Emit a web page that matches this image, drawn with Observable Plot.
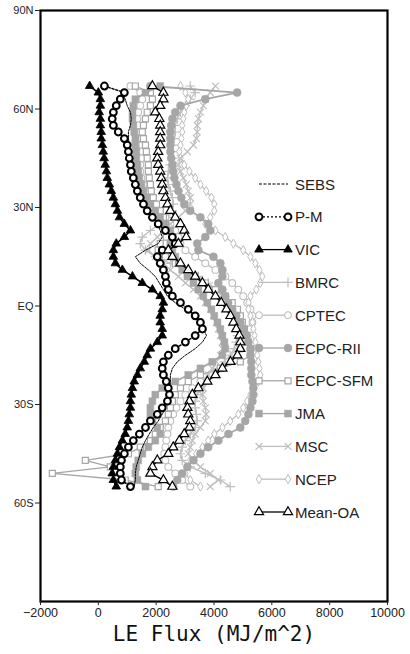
<!DOCTYPE html>
<html><head><meta charset="utf-8">
<script src="https://cdn.jsdelivr.net/npm/d3@7"></script>
<script src="https://cdn.jsdelivr.net/npm/@observablehq/plot@0.6"></script>
<style>body{margin:0;background:#fff;} #chart{width:410px;height:654px;overflow:hidden;}</style>
</head><body><div id="chart"></div>
<script>
// Latitude rows (deg, + = N, - = S)
const lats = [67,65,63,61,59,57,55,53,51,49,47,45,43,41,39,37,35,33,31,29,27,25,23,21,19,17,15,13,11,9,7,5,3,1,-1,-3,-5,-7,-9,-11,-13,-15,-17,-19,-21,-23,-25,-27,-29,-31,-33,-35,-37,-39,-41,-43,-45,-47,-49,-51,-53,-55];

// LE flux (MJ/m^2) per latitude row
const SEBS = [null,830,930,1000,1110,1140,1110,1040,1040,1070,1110,1140,1180,1210,1280,1350,1420,1520,1630,1760,1900,2040,2140,2210,2070,1630,1280,1450,1730,1970,2110,2250,2390,2660,3010,3350,3530,3630,3740,3600,3350,3010,2730,2560,2490,2490,2460,2420,2390,2320,2210,2070,1900,1760,1630,1520,1450,1380,1310,1280,1280,1240];
const PM = [210,900,760,620,520,480,520,690,900,1000,1040,1070,1110,1140,1210,1280,1350,1450,1560,1690,1870,2070,2320,2560,2660,2210,2040,2140,2250,2320,2350,2420,2560,2840,3110,3350,3530,3600,3350,3010,2660,2420,2250,2210,2250,2350,2420,2460,2390,2210,2040,1800,1630,1420,1210,1040,900,800,760,760,800,1110];
const VIC = [-300,0,70,70,30,70,70,100,100,140,170,200,240,280,310,380,450,520,590,660,730,900,1110,900,620,520,520,590,830,1180,1520,1870,2140,2250,2210,2140,2140,2210,2210,2040,1800,1690,1590,1450,1350,1240,1180,1140,1110,1110,1070,1040,1000,930,830,730,660,590,520,480,520,620];
const BMRC = [3180,3350,3180,3010,2840,2730,2660,2660,2630,2590,2590,2560,2490,2420,2390,2420,2490,2560,2590,2560,2420,2140,1800,1520,1450,1630,1970,2490,3010,3460,3800,4080,4290,4470,4600,4700,4770,4810,4810,4770,4700,4560,4360,4120,3870,3700,3530,3420,3350,3350,3390,3420,3350,3180,3010,2900,2840,2900,3180,3700,4220,4560];
const CPTEC = [1110,1450,1520,1450,1380,1350,1380,1450,1490,1520,1520,1490,1450,1450,1490,1560,1660,1800,1970,2140,2320,2490,2660,2770,2840,3010,3350,3700,4050,4390,4630,4840,5010,5150,5260,5330,5330,5260,5150,5050,4910,4740,4500,4220,3870,3530,3250,3010,2840,2700,2590,2490,2420,2390,2350,2320,2280,2320,2420,2660,2900,3180];
const ECPC_RII = [1800,4800,3700,2840,2660,2560,2520,2490,2490,2490,2490,2520,2560,2590,2630,2700,2770,2870,2970,3180,3530,3800,3870,3700,3420,3460,3980,4220,4290,4290,4150,4290,4390,4490,4630,4770,4910,5010,5120,5190,5260,5260,5290,5290,5290,5330,5360,5360,5330,5260,5190,5080,4910,4500,4150,3800,3530,3290,3080,2900,2730,2590];
const ECPC_SFM = [1280,1800,1870,1800,1690,1630,1560,1520,1560,1630,1660,1690,1730,1730,1760,1800,1830,1900,2010,2140,2250,2320,2390,2350,2140,2070,2320,2660,3010,3350,3700,4050,4390,4630,4810,4910,4980,5050,5120,5190,5260,5260,4910,4220,3530,3110,2840,2660,2560,2490,2420,2320,2140,1970,1800,1450,1040,-450,415,-1590,930,2070];
const JMA = [2140,1630,1280,1210,1180,1180,1210,1240,1280,1280,1310,1310,1350,1380,1420,1490,1560,1660,1800,1970,2140,2320,2490,2560,2490,2560,2660,2770,2900,3080,3290,3460,3630,3770,3910,4010,4120,4220,4290,4360,4390,4290,3940,3530,3110,2660,2210,1970,1870,1800,1800,1870,2040,2140,1970,1730,1520,1380,1310,1280,1350,1630];
const MSC = [4050,3870,3700,3630,3530,3460,3420,3420,3390,3290,3080,2840,2770,2840,2940,3040,3110,3180,3180,3010,2770,2490,2250,2040,1800,1730,1970,2250,2490,2770,3010,3290,3530,3700,3870,3980,4080,4150,4220,4290,4290,4220,4080,3940,3800,3700,3630,3600,3630,3700,3730,3700,3530,3350,3250,3180,3110,3250,3530,3870,4150,3870];
const NCEP = [2840,3010,3110,3040,2970,2940,2900,2900,2870,2840,2800,2840,2970,3150,3350,3530,3730,3910,4010,4010,3870,3700,4050,4390,4670,5010,5260,5430,5570,5670,5600,5460,5260,5190,5190,5260,5330,5360,5400,5430,5460,5500,5530,5570,5600,5530,5400,5260,5150,5010,4840,4560,4290,4010,3800,3600,3390,3180,3040,3010,3180,3530];
const MEAN_OA = [1870,2250,2250,2140,1970,2110,2140,2140,2140,2140,2070,2040,2070,2140,2180,2210,2250,2320,2390,2490,2660,2840,2970,3040,2770,2420,2560,2840,3110,3350,3600,3800,4050,4250,4430,4570,4670,4770,4880,4910,4910,4810,4570,4290,4050,3770,3460,3250,3150,3080,3110,3180,3150,2970,2800,2590,2420,2040,1870,1800,2250,2560];

const seriesNames = ["SEBS","P-M","VIC","BMRC","CPTEC","ECPC-RII","ECPC-SFM","JMA","MSC","NCEP","Mean-OA"];
const xTicks = [-2000,0,2000,4000,6000,8000,10000];
const yTicks = [90,60,30,0,-30,-60];
const yTickLabels = ["90N","60N","30N","EQ","30S","60S"];
const xLabel = "LE Flux (MJ/m^2)";

const values = {"SEBS":SEBS,"P-M":PM,"VIC":VIC,"BMRC":BMRC,"CPTEC":CPTEC,"ECPC-RII":ECPC_RII,"ECPC-SFM":ECPC_SFM,"JMA":JMA,"MSC":MSC,"NCEP":NCEP,"Mean-OA":MEAN_OA};

const G1 = "#a6a6a6", G2 = "#bfbfbf";
const style = {
  "SEBS":     {line:"#000", lw:1,   dash:"2,1.2", sym:null},
  "P-M":      {line:"#000", lw:1.5, dash:"2,2", sym:"circle",   r:3.4, fill:"#fff", stroke:"#000", sw:2},
  "VIC":      {line:"#000", lw:1.6, dash:null, sym:"triangle", r:3.2, fill:"#000", stroke:"#000", sw:0.8},
  "BMRC":     {line:G2, lw:1.4, dash:null, sym:"plus",     r:3.2, fill:"none", stroke:G2, sw:1.2},
  "CPTEC":    {line:G2, lw:1.4, dash:null, sym:"circle",   r:3.4, fill:"#fff", stroke:G2, sw:1.1},
  "ECPC-RII": {line:G1, lw:1.8, dash:null, sym:"circle",   r:4,   fill:G1, stroke:G1, sw:0.5},
  "ECPC-SFM": {line:G1, lw:1.3, dash:null, sym:"square",   r:3.4, fill:"#fff", stroke:G1, sw:1.2},
  "JMA":      {line:G1, lw:1.8, dash:null, sym:"square",   r:3.9, fill:G1, stroke:G1, sw:0.5},
  "MSC":      {line:G2, lw:1.3, dash:null, sym:"times",    r:3.2, fill:"none", stroke:G2, sw:1.2},
  "NCEP":     {line:G2, lw:1.3, dash:null, sym:"diamond",  r:2.8, fill:"#fff", stroke:G2, sw:1},
  "Mean-OA":  {line:"#000", lw:1.4, dash:null, sym:"triangle", r:3.4, fill:"#fff", stroke:"#000", sw:1.2}
};

const rows = name => lats.map((lat, i) => ({lat, v: values[name][i]}));
const drawOrder = ["BMRC","CPTEC","ECPC-SFM","NCEP","MSC","ECPC-RII","JMA","SEBS","VIC","P-M","Mean-OA"];

const marks = [];
for (const name of drawOrder) {
  const s = style[name];
  const data = rows(name);
  marks.push(Plot.line(data, {x:"v", y:"lat", stroke:s.line, strokeWidth:s.lw, strokeDasharray:s.dash || undefined}));
  if (s.sym) {
    marks.push(Plot.dot(data, {x:"v", y:"lat", symbol:s.sym, r:s.r, fill:s.fill, stroke:s.stroke, strokeWidth:s.sw}));
  }
}

const chart = Plot.plot({
  width: 410, height: 654,
  marginLeft: 40, marginRight: 23, marginTop: 10, marginBottom: 53,
  style: {fontFamily: "'Liberation Sans', Arial, sans-serif", background: "#fff", color: "#222"},
  x: {domain: [-2000, 10000]},
  y: {domain: [-90, 90]},
  marks: [
    ...marks,
    Plot.frame({stroke: "#000", strokeWidth: 2.2}),
    Plot.axisX({ticks: xTicks, tickSize: 4, tickPadding: 3, fontSize: 12.5, label: null, tickFormat: d => d3.format("d")(d)}),
    Plot.axisY({ticks: yTicks, tickSize: 5, tickPadding: 2, fontSize: 11, label: null, tickFormat: d => yTickLabels[yTicks.indexOf(d)]}),
    Plot.text([xLabel], {frameAnchor: "bottom", dy: 39, text: d => d, fontSize: 21, fontFamily: "'DejaVu Sans Mono', monospace", fill: "#111"})
  ]
});
document.getElementById("chart").appendChild(chart);

// Legend (inside plot, right side)
const svg = d3.select(chart);
const symMap = {circle:d3.symbolCircle, triangle:d3.symbolTriangle, square:d3.symbolSquare, diamond:d3.symbolDiamond, plus:d3.symbolPlus, times:d3.symbolTimes};
const lg = svg.append("g").attr("class", "legend");
const lx0 = 259, lx1 = 288, tx = 295, ly0 = 184, ldy = 32.8;
seriesNames.forEach((name, i) => {
  const s = style[name];
  const y = ly0 + i * ldy;
  lg.append("line").attr("x1", lx0).attr("x2", lx1).attr("y1", y).attr("y2", y)
    .attr("stroke", s.line).attr("stroke-width", name === "SEBS" ? 1.2 : 1.3)
    .attr("stroke-dasharray", name === "SEBS" ? "3,1.5" : (name === "P-M" ? "2,2" : null));
  if (s.sym) {
    const path = d3.symbol(symMap[s.sym], Math.PI * s.r * s.r)();
    const ends = name === "BMRC" ? [lx1] : [lx0, lx1];
    for (const ex of ends) {
      lg.append("path").attr("d", path).attr("transform", `translate(${ex},${y})`)
        .attr("fill", s.fill).attr("stroke", s.stroke).attr("stroke-width", s.sw);
    }
  }
  lg.append("text").attr("x", tx).attr("y", y + 5.5).text(name)
    .attr("text-anchor", "start")
    .attr("font-size", 15).attr("fill", "#222")
    .attr("font-family", "'Liberation Sans', Arial, sans-serif");
});
</script></body></html>
